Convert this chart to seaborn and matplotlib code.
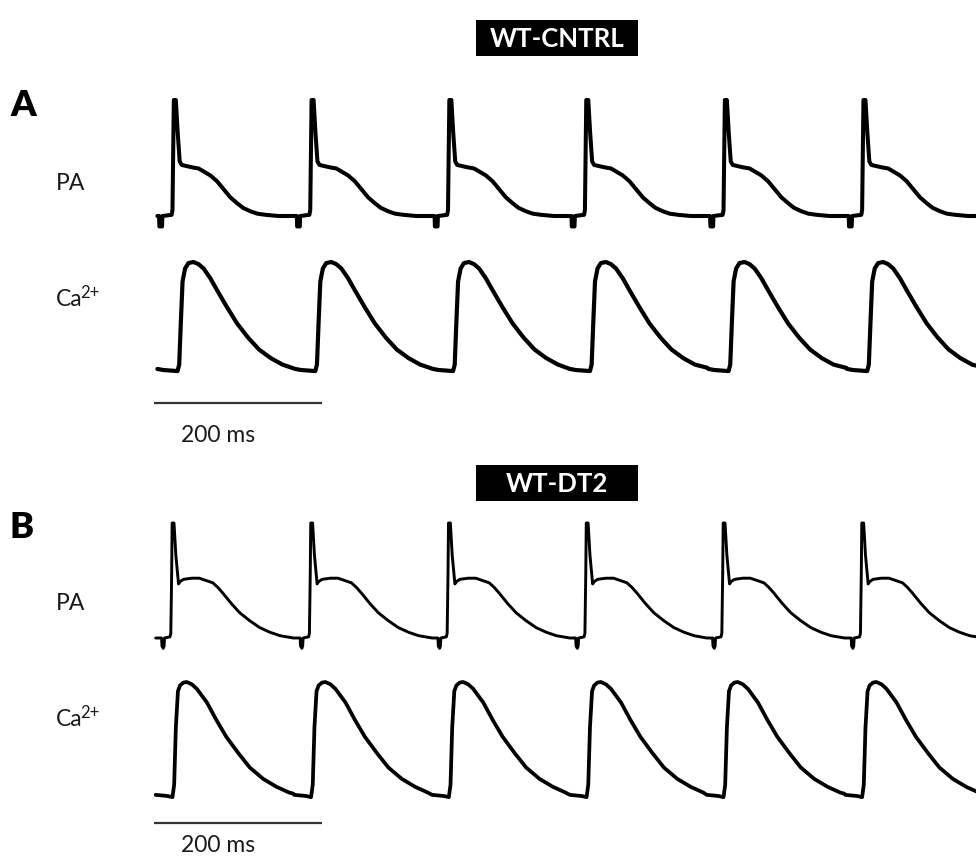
import numpy as np
import pandas as pd
import matplotlib
matplotlib.use("Agg")
import matplotlib.pyplot as plt
from matplotlib.patches import Rectangle
from matplotlib.transforms import blended_transform_factory
import seaborn as sns

# ---------------------------------------------------------------------------
# Single-beat waveforms (time in ms relative to the AP upstroke, normalised
# amplitude: 0 = diastolic baseline, 1 = peak) and the upstroke times of the
# six paced beats in each recording.
# ---------------------------------------------------------------------------
beat_window_ms = (-19, 145)

# WT-CNTRL
cntrl_pa_t = [-19, -17, -16.6, -13.4, -13, -2, -1, 0, 0.6, 3.0, 5.2, 7.6, 10,
              16, 22, 30, 37, 44, 52, 60, 68, 76, 83, 92, 100, 110, 125, 145]
cntrl_pa_v = [0.0, 0.0, -0.09, -0.09, 0.0, 0.01, 0.05, 0.6, 1.0, 1.0, 0.72,
              0.47, 0.44, 0.43, 0.42, 0.41, 0.38, 0.35, 0.30, 0.23, 0.16,
              0.11, 0.07, 0.04, 0.02, 0.01, 0.0, 0.0]
cntrl_ca_t = [-19, -12, 5, 7, 9, 11, 14, 18, 24, 30, 36, 44, 52, 64, 76, 89,
              102, 116, 130, 145]
cntrl_ca_v = [0.01, 0.0, -0.01, 0.05, 0.45, 0.82, 0.94, 0.99, 1.0, 0.98,
              0.94, 0.85, 0.74, 0.58, 0.43, 0.30, 0.19, 0.11, 0.05, 0.02]
cntrl_onsets_ms = [23, 187, 351, 514, 679, 844]

# WT-DT2
dt2_pa_t = [-19, -12, -11.5, -10, -9, -8.5, -2, -1, 0, 0.6, 2.8, 5.0, 8.2, 10,
            14, 24, 33, 41, 49, 55, 61, 71, 81, 93, 105, 117, 129, 145]
dt2_pa_v = [0.0, 0.0, -0.07, -0.09, -0.07, 0.0, 0.01, 0.04, 0.55, 1.0, 1.0,
            0.72, 0.47, 0.49, 0.51, 0.52, 0.52, 0.50, 0.48, 0.44, 0.39, 0.30,
            0.22, 0.15, 0.09, 0.05, 0.02, 0.0]
dt2_ca_t = [-19, -5, 1, 3, 5, 7.5, 10, 14, 18, 24, 30, 36, 42, 53, 65, 79, 93,
            109, 125, 140, 145]
dt2_ca_v = [0.01, 0.0, -0.01, 0.1, 0.6, 0.92, 0.97, 0.995, 1.0, 0.98, 0.94,
            0.88, 0.82, 0.67, 0.52, 0.38, 0.25, 0.15, 0.08, 0.03, 0.02]
dt2_onsets_ms = [21, 186, 350, 514, 677, 842]

scale_bar_ms = 200
trace_labels = ["PA", "Ca"]
ion_charge = "2+"
panel_titles = ["WT-CNTRL", "WT-DT2"]
panel_letters = ["A", "B"]


def build_trace(template_t, template_v, onsets):
    """Place the beat template at every upstroke time."""
    parts = []
    for i, onset in enumerate(onsets):
        t = np.asarray(template_t, float) + onset
        v = np.asarray(template_v, float)
        if i + 1 < len(onsets):
            keep = t < onsets[i + 1] + beat_window_ms[0]
            t, v = t[keep], v[keep]
        parts.append(pd.DataFrame({"time_ms": t, "signal": v}))
    return pd.concat(parts, ignore_index=True)


# ---------------------------------------------------------------------------
# Figure layout (pixel geometry of a 976 x 860 canvas)
# ---------------------------------------------------------------------------
W, H = 976, 860
sns.set_theme(style="white")
plt.rcParams["font.family"] = ["Lato", "DejaVu Sans"]

fig = plt.figure(figsize=(W / 100, H / 100), dpi=100)
fig.patch.set_facecolor("white")
renderer = fig.canvas.get_renderer()

x0_px = 154
ms_per_px = 200 / 168
xlim = (0, (W - x0_px) * ms_per_px)


def fx(x):
    return x / W


def fy(y):
    return 1 - y / H


def trace_axes(base_px, range_px, lo=-0.35, hi=1.12):
    bottom_px = base_px - lo * range_px
    ax = fig.add_axes([fx(x0_px), fy(bottom_px), fx(W - x0_px),
                       (hi - lo) * range_px / H])
    ax.set_xlim(*xlim)
    ax.set_ylim(lo, hi)
    ax.set_axis_off()
    ax.patch.set_alpha(0)
    return ax


panels = [
    dict(pa=(cntrl_pa_t, cntrl_pa_v), ca=(cntrl_ca_t, cntrl_ca_v),
         onsets=cntrl_onsets_ms, pa_geo=(216, 116), ca_geo=(370, 108),
         pa_lw=2.9, ca_lw=3.0, title_y=(20, 56), letter_y=106,
         pa_label_y=183, ca_base_y=306, bar_y=403, bar_text_y=435),
    dict(pa=(dt2_pa_t, dt2_pa_v), ca=(dt2_ca_t, dt2_ca_v),
         onsets=dt2_onsets_ms, pa_geo=(638, 115), ca_geo=(796, 114),
         pa_lw=2.1, ca_lw=2.7, title_y=(465, 501), letter_y=528,
         pa_label_y=604, ca_base_y=726, bar_y=823, bar_text_y=845),
]

for k, p in enumerate(panels):
    # membrane potential trace
    ax_pa = trace_axes(*p["pa_geo"])
    df_pa = build_trace(*p["pa"], p["onsets"])
    sns.lineplot(data=df_pa, x="time_ms", y="signal", ax=ax_pa, sort=False,
                 estimator=None, color="black", linewidth=p["pa_lw"])
    ax_pa.set_axis_off()

    # calcium transient trace
    ax_ca = trace_axes(*p["ca_geo"])
    df_ca = build_trace(*p["ca"], p["onsets"])
    sns.lineplot(data=df_ca, x="time_ms", y="signal", ax=ax_ca, sort=False,
                 estimator=None, color="black", linewidth=p["ca_lw"])
    ax_ca.set_axis_off()

    # time scale bar
    tr = blended_transform_factory(ax_ca.transData, fig.transFigure)
    ax_ca.plot([0, scale_bar_ms], [fy(p["bar_y"])] * 2, transform=tr,
               color="#333333", linewidth=1.6, clip_on=False,
               solid_capstyle="butt")
    ax_ca.text(76, fy(p["bar_text_y"]), f"{scale_bar_ms} ms", transform=tr,
               ha="center", va="center", fontsize=16.5, color="#1a1a1a")

    # condition title in a black box
    ty0, ty1 = p["title_y"]
    fig.patches.append(Rectangle((fx(476), fy(ty1)), fx(638 - 476),
                                 (ty1 - ty0) / H, transform=fig.transFigure,
                                 facecolor="black", edgecolor="none"))
    fig.text(fx(557), fy((ty0 + ty1) / 2 + 1), panel_titles[k], color="white",
             fontsize=18.5, fontweight="bold", ha="center", va="center")

    # panel letter and trace labels
    fig.text(fx(10), fy(p["letter_y"]), panel_letters[k], fontsize=26,
             fontweight="heavy", ha="left", va="center", color="black")
    fig.text(fx(56), fy(p["pa_label_y"]), trace_labels[0], fontsize=16.5,
             ha="left", va="center", color="#1a1a1a")
    ca_txt = fig.text(fx(56), fy(p["ca_base_y"]), trace_labels[1],
                      fontsize=16.5, ha="left", va="baseline",
                      color="#1a1a1a")
    ca_right = ca_txt.get_window_extent(renderer).x1
    fig.text((ca_right - 2) / W, fy(p["ca_base_y"] - 8), ion_charge,
             fontsize=12, ha="left", va="baseline", color="#1a1a1a")

fig.savefig("out.png", dpi=100, facecolor="white")
